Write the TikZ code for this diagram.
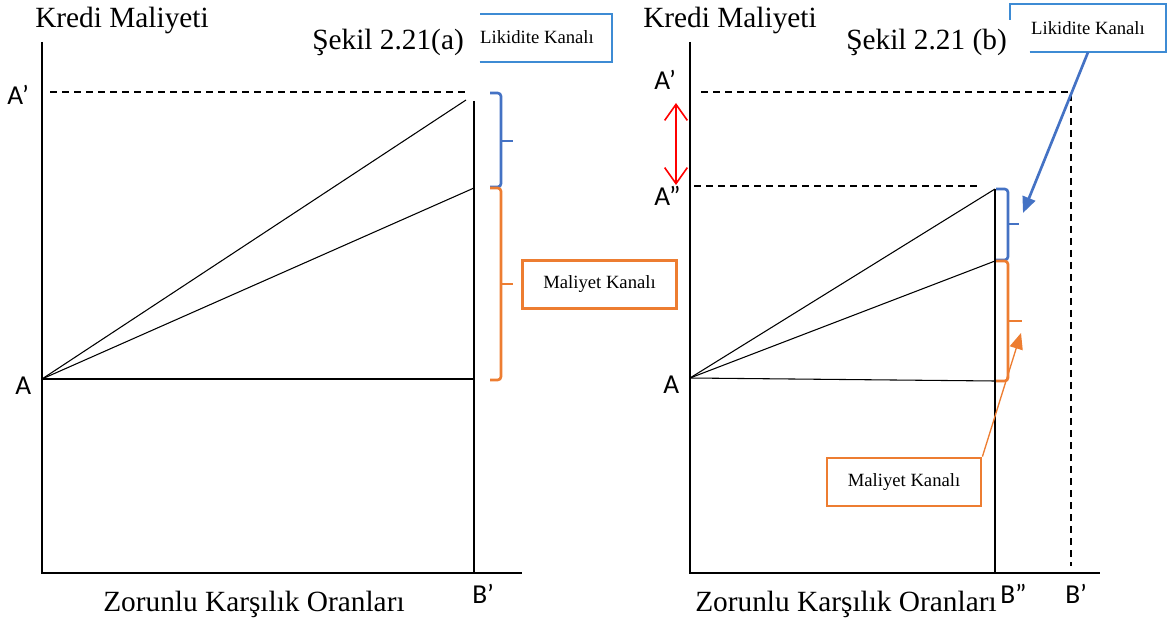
\documentclass[tikz,border=0pt]{standalone}
\usepackage{fontspec}
\setmainfont{Liberation Serif}
\newfontfamily\labfont{Carlito}
\usetikzlibrary{arrows.meta}
\definecolor{obrace}{HTML}{ED7D31}
\definecolor{bbrace}{HTML}{4472C4}
\definecolor{bbox}{HTML}{3D8BD4}
\begin{document}
\begin{tikzpicture}[x=0.75pt,y=-0.75pt,
  title/.style={font=\fontsize{22}{26}\selectfont, inner sep=0pt, anchor=base west},
  lbl/.style={font=\labfont\fontsize{20.5}{24}\selectfont, inner sep=0pt, anchor=base west},
  boxtxt/.style={font=\fontsize{14}{16}\selectfont, inner sep=0pt},
  axisline/.style={line width=1.15pt},
  ray/.style={line width=0.8pt},
  dashline/.style={line width=1.1pt, dash pattern=on 5.5pt off 3.5pt},
  bracebl/.style={draw=bbrace, line width=2pt, rounded corners=2.5pt},
  braceor/.style={draw=obrace, line width=2pt, rounded corners=2.5pt},
  mbox/.style={boxtxt, draw=obrace, line width=2.1pt, minimum height=36pt},
  lbox/.style={boxtxt, minimum height=36pt},
  boxbl/.style={draw=bbox, line width=1.3pt},
  tri/.style={-{Triangle[length=12pt,width=10pt]}}
]
\useasboundingbox (0,0) rectangle (1168,620);

% ===================== LEFT PANEL =====================
\node[title] (kmL) at (35,28) {Kredi Maliyeti};
\node[title] (sekL) at (312,50) {Şekil 2.21(a)};
\node[title] (zkL) at (103,611) {Zorunlu Karşılık Oranları};
\node[lbl] (lApL) at (7,105) {A’};
\node[lbl] (lAL) at (15,394) {A};
\node[lbl] (lBpL) at (472,603) {B’};

\coordinate (oTL) at (42,42);
\coordinate (oL) at (42,573);
\coordinate (xEL) at (522,573);
\coordinate (AL) at (42,379);
\coordinate (BpTopL) at (474,101);
\coordinate (BpL) at (474,573);
\coordinate (dS) at (50,92);
\coordinate (dE) at (468,92);
\coordinate (upL) at (466,100);
\coordinate (midL) at (474,188);
\coordinate (horL) at (474,379);

\draw[axisline] (oTL) -- (oL) -- (xEL);
\draw[axisline] (BpTopL) -- (BpL);
\draw[dashline] (dS) -- (dE);
\draw[ray] (AL) -- (upL);
\draw[ray] (AL) -- (midL);
\draw[ray] (AL) -- (horL);

% braces left
\draw[bracebl] (490,93) -- (501,93) -- (501,187) -- (490,187);
\draw[draw=bbrace, line width=2pt] (501,141) -- (513,141);
\draw[braceor] (490,188) -- (501,188) -- (501,380) -- (490,380);
\draw[draw=obrace, line width=2pt] (501,284) -- (513,284);

% boxes left
\node[mbox, minimum width=116pt] (malL) at (599.5,284.5) {Maliyet Kanalı};
\node[lbox, minimum width=99pt] (likL) at (546,38) {};
\node[boxtxt] (likLt) at (537,37) {Likidite Kanalı};
\draw[boxbl] (likL.south west) -- (likL.south east) -- (likL.north east) -- (likL.north west);

% ===================== RIGHT PANEL =====================
\node[title] (kmR) at (643,28) {Kredi Maliyeti};
\node[title] (sekR) at (846,50) {Şekil 2.21 (b)};
\node[title] (zkR) at (695,611) {Zorunlu Karşılık Oranları};
\node[lbl] (lApR) at (654,90) {A’};
\node[lbl] (lAppR) at (654,206) {A”};
\node[lbl] (lAR) at (663,393) {A};
\node[lbl] (lBppR) at (1000,603) {B”};
\node[lbl] (lBpR) at (1065,603) {B’};

\coordinate (oTR) at (690,42);
\coordinate (oR) at (690,573);
\coordinate (xER) at (1100,573);
\coordinate (AR) at (690,378);
\coordinate (BppTop) at (995,189);
\coordinate (BppR) at (995,573);
\coordinate (midR) at (995,261);
\coordinate (horR) at (995,381);
\coordinate (dApS) at (701,92);
\coordinate (dApE) at (1071,92);
\coordinate (dBpE) at (1071,566);
\coordinate (dAppS) at (694,186);
\coordinate (dAppE) at (979,186);
\coordinate (rT) at (676,103);
\coordinate (rB) at (676,185);

\draw[axisline] (oTR) -- (oR) -- (xER);
\draw[axisline] (BppTop) -- (BppR);
\draw[dashline] (dApS) -- (dApE) -- (dBpE);
\draw[dashline] (dAppS) -- (dAppE);
\draw[ray] (AR) -- (BppTop);
\draw[ray] (AR) -- (midR);
\draw[ray] (AR) -- (horR);

\draw[red, line width=1.2pt, {Straight Barb[length=12pt,width=17pt]}-{Straight Barb[length=12pt,width=17pt]}] (rT) -- (rB);

% braces right
\draw[bracebl] (996,189) -- (1008,189) -- (1008,260) -- (996,260);
\draw[draw=bbrace, line width=2pt] (1008,224) -- (1019,224);
\draw[braceor] (996,261) -- (1008,261) -- (1008,381) -- (996,381);
\draw[draw=obrace, line width=2pt] (1008,321) -- (1022,321);

% boxes right
\node[mbox, minimum width=115.5pt] (malR) at (904,482) {Maliyet Kanalı};
\node[lbox, minimum width=117pt] (likR) at (1088,28) {Likidite Kanalı};
\draw[boxbl] ([xshift=15pt]likR.south west) -- (likR.south east) -- (likR.north east) -- (likR.north west) -- ([yshift=-12pt]likR.north west);

\coordinate (bArr) at (1023,213);
\coordinate (oArr) at (1021,333);
\draw[bbrace, line width=2pt, tri] (likR.south) -- (bArr);
\draw[obrace, line width=1pt, tri] (malR.north east) -- (oArr);
\end{tikzpicture}
\end{document}
